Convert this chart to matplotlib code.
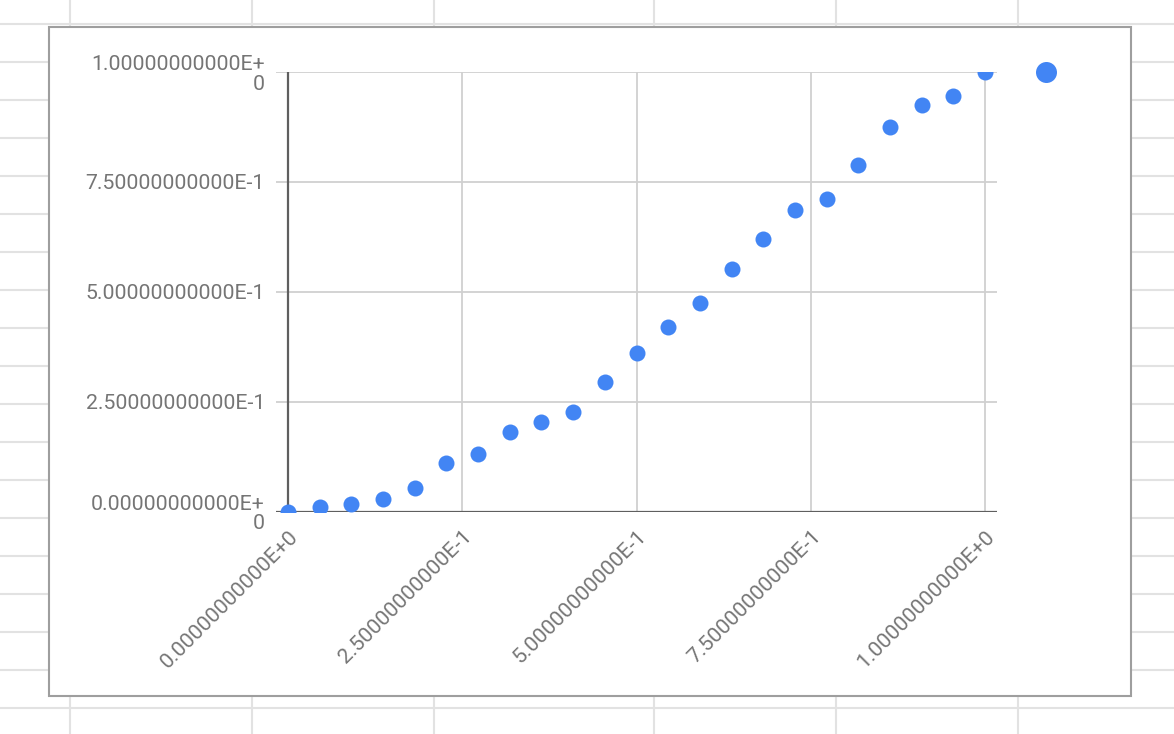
import matplotlib
matplotlib.use("Agg")
import matplotlib.pyplot as plt
import matplotlib.transforms as mtransforms
from matplotlib.lines import Line2D
from matplotlib.patches import Rectangle

# ---- data ----
x_values = [0/22, 1/22, 2/22, 3/22, 4/22, 5/22, 6/22, 7/22, 8/22, 9/22, 10/22,
            11/22, 12/22, 13/22, 14/22, 15/22, 16/22, 17/22, 18/22, 19/22,
            20/22, 21/22, 22/22]
y_values = [0.0, 0.0096, 0.0164, 0.0277, 0.0535, 0.110, 0.131, 0.181, 0.204,
            0.227, 0.294, 0.361, 0.420, 0.474, 0.552, 0.619, 0.686, 0.710,
            0.788, 0.874, 0.925, 0.945, 1.0]
x_ticks = [0.0, 0.25, 0.5, 0.75, 1.0]
x_tick_labels = ["0.00000000000E+0", "2.50000000000E-1", "5.00000000000E-1",
                 "7.50000000000E-1", "1.00000000000E+0"]
y_ticks = [0.0, 0.25, 0.5, 0.75, 1.0]
y_tick_labels = ["0.00000000000E+\n0", "2.50000000000E-1", "5.00000000000E-1",
                 "7.50000000000E-1", "1.00000000000E+\n0"]

W, H = 1174, 734
BLUE = "#4285F4"
TXT = "#757575"

plt.rcParams["font.family"] = ["Roboto", "DejaVu Sans"]
fig = plt.figure(figsize=(W / 100, H / 100), dpi=100)
fig.patch.set_facecolor("white")

def fx(px):
    return px / W

def fy(py):
    return 1 - py / H

# spreadsheet background grid
for py in range(24, H, 38):
    fig.add_artist(Line2D([0, 1], [fy(py), fy(py)], color="#e2e2e2", lw=1.5, zorder=0))
for px in [70, 252, 434, 654, 836, 1018]:
    fig.add_artist(Line2D([fx(px), fx(px)], [0, 1], color="#e2e2e2", lw=1.5, zorder=0))

# chart box
fig.add_artist(Rectangle((fx(49), fy(696)), fx(1131) - fx(49), fy(27) - fy(696),
                         facecolor="white", edgecolor="#9e9e9e", lw=1.5, zorder=1))

# axes
ax_left, ax_right, ax_top, ax_bottom = 276, 997, 72, 511.5
ax = fig.add_axes([fx(ax_left), fy(ax_bottom), fx(ax_right) - fx(ax_left), fy(ax_top) - fy(ax_bottom)])
ax.set_zorder(2)
ax.patch.set_alpha(0)
xpad = 12 / 697.0
ax.set_xlim(-xpad, 1 + xpad)
ax.set_ylim(0, 1)

for s in ax.spines.values():
    s.set_visible(False)

# gridlines
for yt in y_ticks[1:]:
    ax.axhline(yt, color="#d0d0d0", lw=1.3, zorder=1)
for xt in x_ticks[1:]:
    ax.axvline(xt, color="#d0d0d0", lw=1.3, zorder=1)
# axis lines
ax.axhline(0, color="#5f5f5f", lw=1.6, zorder=2)
ax.axvline(0, color="#5f5f5f", lw=1.6, zorder=2)

sc = ax.scatter(x_values, y_values, s=(16 * 0.72) ** 2, color=BLUE, linewidths=0, zorder=3)

ax.set_xticks(x_ticks)
ax.set_xticklabels(x_tick_labels, rotation=45, ha="right", va="center",
                   rotation_mode="anchor", color=TXT, fontsize=15.3)
ax.set_yticks(y_ticks)
ax.set_yticklabels(y_tick_labels, color=TXT, fontsize=15.3, linespacing=1.05)
ax.tick_params(axis="both", length=0)
ax.tick_params(axis="y", pad=8)
ax.tick_params(axis="x", pad=16)
offset = mtransforms.ScaledTranslation(7 / 100, 0, fig.dpi_scale_trans)
for lab in ax.get_xticklabels():
    lab.set_transform(lab.get_transform() + offset)

# legend (marker only)
handle = Line2D([], [], marker="o", linestyle="none", markersize=21 * 0.72,
                markerfacecolor=BLUE, markeredgewidth=0)
leg = fig.legend(handles=[handle], labels=[""], loc="center",
                 bbox_to_anchor=(fx(1046), fy(72)), frameon=False,
                 handlelength=1.0, handletextpad=0, borderpad=0, borderaxespad=0,
                 fontsize=1)

fig.savefig("out.png", dpi=100, facecolor="white")
